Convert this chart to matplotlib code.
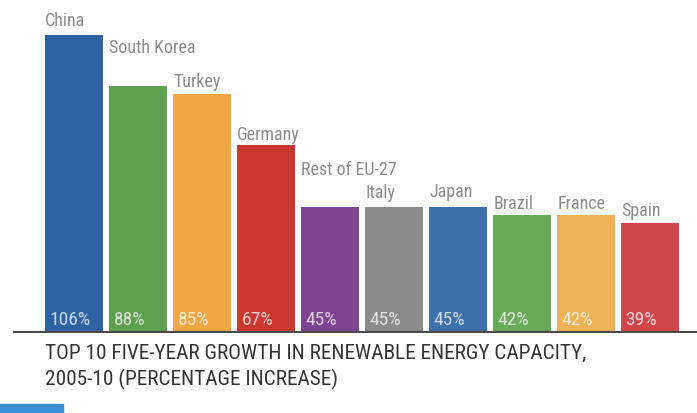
import matplotlib
matplotlib.use("Agg")
import matplotlib.pyplot as plt
from matplotlib.patches import Rectangle
from matplotlib import font_manager as fm

countries = ["China", "South Korea", "Turkey", "Germany", "Rest of EU-27",
             "Italy", "Japan", "Brazil", "France", "Spain"]
values = [106, 88, 85, 67, 45, 45, 45, 42, 42, 39]
labels = ["106%", "88%", "85%", "67%", "45%", "45%", "45%", "42%", "42%", "39%"]
colors = ["#2f62a3", "#5e9f50", "#efa744", "#cc3631", "#7d4590",
          "#8b8b8b", "#3d70ad", "#68a95a", "#f1b155", "#d0464a"]
title = "TOP 10 FIVE-YEAR GROWTH IN RENEWABLE ENERGY CAPACITY,\n2005-10 (PERCENTAGE INCREASE)"

# layout: gap (px) between bar top and label baseline
label_gap_px = [10, 34, 8, 6, 33, 10, 11, 7, 7, 8]

names = sorted({f.name for f in fm.fontManager.ttflist})
cond = None
for pref in ["Liberation Sans Narrow", "Roboto Condensed", "Open Sans Condensed",
             "DejaVu Sans Condensed", "Noto Sans Condensed"]:
    if pref in names:
        cond = pref
        break
if cond:
    FONT = [cond, "DejaVu Sans"]
    k = 1.0
else:
    FONT = ["DejaVu Sans"]
    k = 0.8

W, H = 697, 414
fig = plt.figure(figsize=(W / 100, H / 100), dpi=100)
fig.patch.set_facecolor("white")

base_px = 334
ppu = 2.81  # pixels per percentage unit
ax = fig.add_axes([13 / W, 1 - base_px / H, (697 - 13) / W, base_px / H])
pitch = 64.0
ax.set_xlim((13 - 45) / pitch, (697 - 45) / pitch)
ax.set_ylim(0, base_px / ppu)
ax.axis("off")

xs = list(range(len(values)))
ax.bar(xs, values, width=58 / pitch, align="edge", color=colors, linewidth=0)
ax.axhline(0, color="#4a4a4a", lw=3, zorder=5)

for x, v, c, lab, g in zip(xs, values, countries, labels, label_gap_px):
    ax.text(x + 0.005, v + g / ppu, c, ha="left", va="baseline", fontsize=13 * k,
            color="#8c8c8c", family=FONT)
    ax.text(x + 0.07, 4.9, lab, ha="left", va="center", fontsize=14 * k,
            color="white", alpha=0.75, family=FONT)

fig.text(45 / W, 1 - 344 / H, title, ha="left", va="top", fontsize=15.3 * k,
         color="#333333", family=FONT, linespacing=1.38)

fig.patches.append(Rectangle((0, 0), 63 / W, 9 / H, transform=fig.transFigure,
                             color="#3b8fd4", zorder=10))

fig.savefig("out.png", dpi=100, facecolor="white")
